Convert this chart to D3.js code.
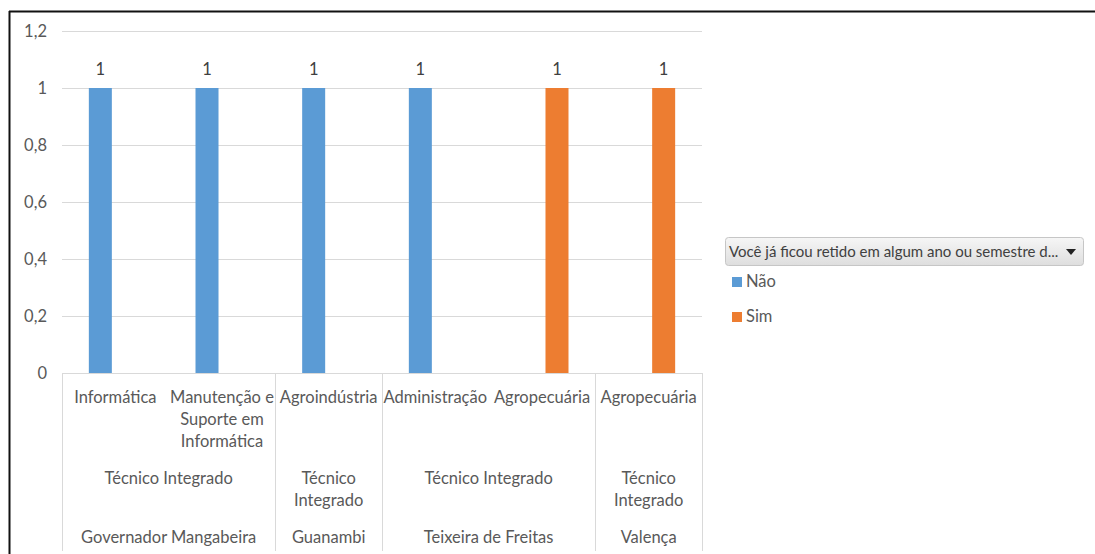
<!DOCTYPE html>
<html>
<head>
<meta charset="utf-8">
<script src="https://cdn.jsdelivr.net/npm/d3@7"></script>
<style>
  html, body { margin: 0; padding: 0; background: #fff; }
  svg { display: block; }
  text { font-family: Lato, "Open Sans", sans-serif; }
</style>
</head>
<body>
<svg id="chart" width="1095" height="554"></svg>
<script>
// ---- data ----
const campus = ["Governador Mangabeira", "Governador Mangabeira", "Guanambi", "Teixeira de Freitas", "Teixeira de Freitas", "Valença"];
const modalidade = ["Técnico Integrado", "Técnico Integrado", "Técnico Integrado", "Técnico Integrado", "Técnico Integrado", "Técnico Integrado"];
const curso = ["Informática", "Manutenção e Suporte em Informática", "Agroindústria", "Administração", "Agropecuária", "Agropecuária"];
const seriesNames = ["Não", "Sim"];
const naoValues = [1, 1, 1, 1, null, null];
const simValues = [null, null, null, null, 1, 1];
const yTicks = [0, 0.2, 0.4, 0.6, 0.8, 1, 1.2];
const legendTitle = "Você já ficou retido em algum ano ou semestre d...";
const colors = ["#5B9BD5", "#ED7D31"];

// ---- layout ----
const svg = d3.select("#chart");
const plot = { left: 62, right: 702, top: 31, bottom: 373 };
const idx = d3.range(curso.length);
const FS = "16.5px";

const x = d3.scaleBand().domain(idx).range([plot.left, plot.right]).padding(0);
const xs = d3.scaleBand().domain(seriesNames).range([0, x.bandwidth()]).paddingInner(0.233).paddingOuter(0.895);
const y = d3.scaleLinear().domain([0, 1.2]).range([plot.bottom, plot.top]);

// outer frame (top and left black border)
svg.append("line").attr("x1", 9).attr("x2", 1095).attr("y1", 11.5).attr("y2", 11.5)
  .attr("stroke", "#111").attr("stroke-width", 2);
svg.append("line").attr("x1", 9.5).attr("x2", 9.5).attr("y1", 11).attr("y2", 554)
  .attr("stroke", "#111").attr("stroke-width", 2);

// gridlines
const yAxis = d3.axisLeft(y).tickValues(yTicks)
  .tickSize(-(plot.right - plot.left))
  .tickFormat(d => d3.format("")(d).replace(".", ","))
  .tickPadding(15);
const gy = svg.append("g").attr("transform", `translate(${plot.left},0)`).call(yAxis);
gy.select(".domain").remove();
gy.selectAll(".tick line").attr("stroke", "#d9d9d9").attr("stroke-width", 1)
  .filter(d => d === 0).remove();
gy.selectAll(".tick text").attr("fill", "#595959").style("font-size", FS);

// bars
const series = [naoValues, simValues];
series.forEach((vals, si) => {
  svg.append("g").selectAll("rect")
    .data(idx.filter(i => vals[i] != null))
    .join("rect")
    .attr("x", i => x(i) + xs(seriesNames[si]))
    .attr("width", xs.bandwidth())
    .attr("y", i => y(vals[i]))
    .attr("height", i => y(0) - y(vals[i]))
    .attr("fill", colors[si]);
  svg.append("g").selectAll("text")
    .data(idx.filter(i => vals[i] != null))
    .join("text")
    .attr("x", i => x(i) + xs(seriesNames[si]) + xs.bandwidth() / 2)
    .attr("y", i => y(vals[i]) - 13)
    .attr("text-anchor", "middle")
    .attr("fill", "#404040")
    .style("font-size", FS)
    .text(i => d3.format("")(vals[i]));
});

// category axis line
svg.append("line").attr("x1", plot.left).attr("x2", plot.right)
  .attr("y1", plot.bottom + 0.5).attr("y2", plot.bottom + 0.5)
  .attr("stroke", "#d9d9d9");

// wrap helper
function wrapText(g, str, cx, yTop, maxW, lineH) {
  const words = str.split(" ");
  const lines = [];
  let cur = [];
  const probe = g.append("text").style("font-size", FS);
  words.forEach(w => {
    const test = cur.concat([w]).join(" ");
    probe.text(test);
    if (cur.length && probe.node().getComputedTextLength() > maxW) {
      lines.push(cur.join(" "));
      cur = [w];
    } else cur.push(w);
  });
  if (cur.length) lines.push(cur.join(" "));
  probe.remove();
  const t = g.append("text").attr("text-anchor", "middle").attr("fill", "#595959")
    .style("font-size", FS);
  lines.forEach((l, k) => {
    t.append("tspan").attr("x", cx).attr("y", yTop + k * lineH).text(l);
  });
}

const labels = svg.append("g");
// level 1
idx.forEach(i => wrapText(labels, curso[i], x(i) + x.bandwidth() / 2, 403, x.bandwidth() - 1, 22));

// groups for levels 2 and 3
function groups(keysArr) {
  const out = [];
  idx.forEach(i => {
    const key = campus[i] + "|" + keysArr[i];
    const last = out[out.length - 1];
    if (last && last.key === key) last.end = i;
    else out.push({ key, label: keysArr[i], start: i, end: i });
  });
  return out;
}
const g2 = groups(modalidade);
const g3 = groups(campus);
g2.forEach(g => {
  const x0 = x(g.start), x1 = x(g.end) + x.bandwidth();
  wrapText(labels, g.label, (x0 + x1) / 2, 484, x1 - x0 - 2, 22);
});
g3.forEach(g => {
  const x0 = x(g.start), x1 = x(g.end) + x.bandwidth();
  wrapText(labels, g.label, (x0 + x1) / 2, 543, x1 - x0 - 2, 22);
});

// separators between level-2/3 groups
const seps = [plot.left].concat(g3.map(g => x(g.end) + x.bandwidth()));
svg.append("g").selectAll("line").data(seps).join("line")
  .attr("x1", d => Math.round(d) + 0.5).attr("x2", d => Math.round(d) + 0.5)
  .attr("y1", plot.bottom).attr("y2", 551)
  .attr("stroke", "#d9d9d9");

// legend
const defs = svg.append("defs");
const grad = defs.append("linearGradient").attr("id", "lg").attr("x1", 0).attr("x2", 0).attr("y1", 0).attr("y2", 1);
grad.append("stop").attr("offset", "0%").attr("stop-color", "#f6f6f6");
grad.append("stop").attr("offset", "100%").attr("stop-color", "#dedede");
const lg = svg.append("g");
lg.append("rect").attr("x", 725.5).attr("y", 237.5).attr("width", 358).attr("height", 28)
  .attr("rx", 3).attr("fill", "url(#lg)").attr("stroke", "#c6c6c6");
lg.append("text").attr("x", 729).attr("y", 257).attr("fill", "#404040")
  .style("font-size", "15px").text(legendTitle);
lg.append("path").attr("d", "M1066,249 L1076,249 L1071,255 Z").attr("fill", "#222");
seriesNames.forEach((s, i) => {
  const yy = 277 + i * 35;
  lg.append("rect").attr("x", 732).attr("y", yy).attr("width", 10).attr("height", 10).attr("fill", colors[i]);
  lg.append("text").attr("x", 746).attr("y", yy + 10).attr("fill", "#595959")
    .style("font-size", FS).text(s);
});
</script>
</body>
</html>
